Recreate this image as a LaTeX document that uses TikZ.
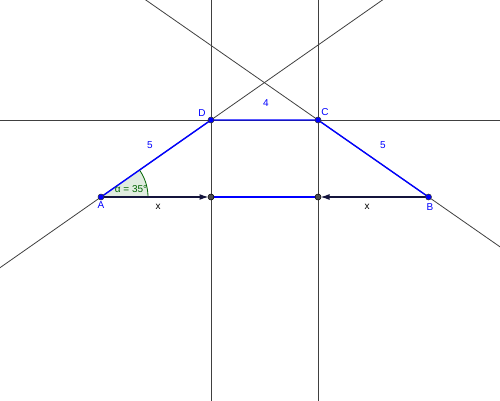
\documentclass[tikz,border=0pt]{standalone}
\usepackage{fontspec}
\setmainfont{Liberation Sans}
\usetikzlibrary{calc,arrows.meta}
\definecolor{ggblue}{RGB}{0,0,255}
\definecolor{gggreen}{RGB}{0,100,0}
\definecolor{ggnavy}{RGB}{20,20,60}

\begin{document}
\begin{tikzpicture}[x=1pt,y=-1pt,
    guide/.style={draw=black!75,line width=0.8pt},
    side/.style={draw=ggblue,line width=1.4pt},
    xarrow/.style={draw=ggnavy,line width=1.3pt,-{Latex[length=9pt,width=6pt]},shorten >=2.5pt},
    dot/.style={circle,fill=ggblue,draw=black!80,line width=0.5pt,inner sep=0pt,minimum size=6pt},
    footdot/.style={circle,fill=black!70,draw=black,line width=0.5pt,inner sep=0pt,minimum size=6pt},
    lbl/.style={font=\fontsize{10}{11}\selectfont,text=ggblue,inner sep=1pt},
    xlbl/.style={font=\fontsize{10}{11}\selectfont,inner sep=1pt}]
    \useasboundingbox (0,0) rectangle (500,401);
    \clip (0,0) rectangle (500,401);
    \coordinate (A) at (101,197);
    \coordinate (B) at (428.5,197);
    \coordinate (C) at (318,120);
    \coordinate (D) at (211,120);
    \coordinate (E) at (211,197);
    \coordinate (F) at (318,197);
    % construction lines
    \draw[guide] ($(A)!-2!(D)$) -- ($(A)!3!(D)$);
    \draw[guide] ($(B)!-2!(C)$) -- ($(B)!3!(C)$);
    \draw[guide] (0,120) -- (500,120);
    \draw[guide] (211,0) -- (211,401);
    \draw[guide] (318,0) -- (318,401);
    % angle
    \fill[gggreen!12] (A) -- ++(47,0) arc[start angle=0,end angle=-35,radius=47] -- cycle;
    \draw[gggreen,line width=0.8pt] (A) ++(47,0) arc[start angle=0,end angle=-35,radius=47];
    % trapezoid
    \draw[side] (A) -- (D) -- (C) -- (B);
    \draw[side] (E) -- (F);
    \draw[xarrow] (A) -- (E);
    \draw[xarrow] (B) -- (F);
    \node[footdot] (e) at (E) {};
    \node[footdot] (f) at (F) {};
    \node[dot] (a) at (A) {};
    \node[dot] (b) at (B) {};
    \node[dot] (c) at (C) {};
    \node[dot] (d) at (D) {};
    \node[lbl] at (101,205) {A};
    \node[lbl] at (430,207) {B};
    \node[lbl] at (325,112) {C};
    \node[lbl] at (202,113) {D};
    \node[lbl] at (150,145) {5};
    \node[lbl] at (266,103) {4};
    \node[lbl] at (383,145) {5};
    \node[xlbl] at (158,207) {x};
    \node[xlbl] at (367,207) {x};
    \node[xlbl,text=gggreen] at (131,189) {α = 35°};
\end{tikzpicture}
\end{document}
